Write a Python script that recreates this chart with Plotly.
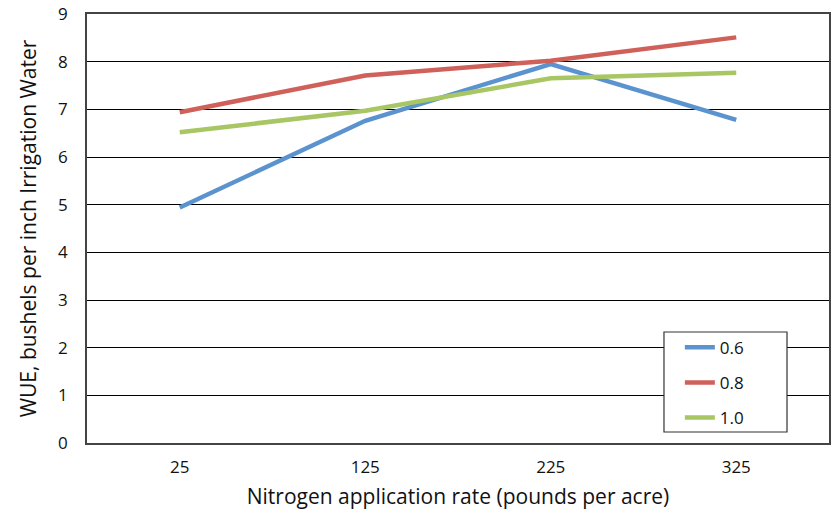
import plotly.graph_objects as go

categories = ["25", "125", "225", "325"]
series_names = ["0.6", "0.8", "1.0"]
wue_06 = [4.94, 6.76, 7.95, 6.78]
wue_08 = [6.94, 7.71, 8.02, 8.51]
wue_10 = [6.52, 6.97, 7.65, 7.77]
y_ticks = [0, 1, 2, 3, 4, 5, 6, 7, 8, 9]

colors = ["#5b93cf", "#d0605a", "#a8c663"]
FONT = "Open Sans"

fig = go.Figure()
for i, (name, vals) in enumerate(zip(series_names, [wue_06, wue_08, wue_10])):
    fig.add_trace(go.Scatter(
        x=categories, y=vals, mode="lines", name=name,
        legendgroup=name,
        line=dict(color=colors[i], width=4.5),
    ))

# legend frame
fig.add_shape(type="rect", xref="paper", yref="paper",
              x0=0.7776, x1=0.9434, y0=0.0256, y1=0.2587,
              line=dict(color="#333", width=1.2), fillcolor="white",
              layer="above")

fig.update_layout(
    width=833, height=512,
    margin=dict(l=87, r=4, t=14, b=69),
    paper_bgcolor="white", plot_bgcolor="white",
    font=dict(family=FONT, size=16, color="#111"),
    showlegend=True,
    legend=dict(
        x=0.799, y=0.264, xanchor="left", yanchor="top",
        borderwidth=0,
        font=dict(size=17, family=FONT),
        tracegroupgap=10,
        bgcolor="rgba(0,0,0,0)",
    ),
    xaxis=dict(
        type="category", range=[-0.5, 3.5],
        automargin=False,
        showgrid=False,
        showline=True, linecolor="#444", linewidth=2, mirror=True,
        ticks="", ticklabelstandoff=8,
        tickfont=dict(size=17, family=FONT),
        title=dict(text="Nitrogen application rate (pounds per acre)",
                   font=dict(size=21, family=FONT), standoff=12),
    ),
    yaxis=dict(
        range=[0, 9], tickvals=y_ticks,
        automargin=False,
        showgrid=True, gridcolor="#000", gridwidth=1,
        showline=True, linecolor="#444", linewidth=1.5, mirror=True,
        zeroline=False, ticks="", ticklabelstandoff=14,
        tickfont=dict(size=17, family=FONT),
        title=dict(text="WUE, bushels per inch Irrigation Water",
                   font=dict(size=21, family=FONT), standoff=16),
    ),
)

fig.write_html(
    "out.html",
    config={"displayModeBar": False},
    post_script="document.body.style.margin='0';document.body.style.overflow='hidden';",
)
